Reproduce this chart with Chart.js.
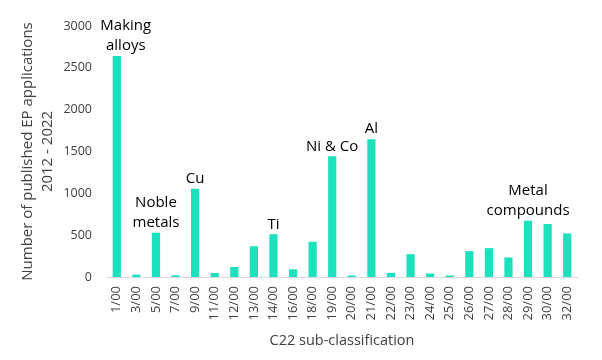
<!DOCTYPE html>
<html>
<head>
<meta charset="utf-8">
<script src="https://cdn.jsdelivr.net/npm/chart.js@4.4.1/dist/chart.umd.min.js"></script>
<style>
  html, body { margin: 0; padding: 0; background: #fff; }
  #wrap { width: 602px; height: 360px; }
</style>
</head>
<body>
<div id="wrap"><canvas id="chart" width="602" height="360"></canvas></div>
<script>
(function() {
    'use strict';

    // Categories (C22 sub-classes) and number of published applications
    var categories = ['1/00', '3/00', '5/00', '7/00', '9/00', '11/00', '12/00', '13/00',
                      '14/00', '16/00', '18/00', '19/00', '20/00', '21/00', '22/00', '23/00',
                      '24/00', '25/00', '26/00', '27/00', '28/00', '29/00', '30/00', '32/00'];
    var applications = [2640, 28, 530, 20, 1054, 48, 120, 367,
                        511, 92, 421, 1443, 18, 1647, 50, 273,
                        42, 18, 309, 345, 233, 673, 633, 521];

    // Text labels placed above some bars
    var labelCategories = ['1/00', '5/00', '9/00', '14/00', '19/00', '21/00', '29/00'];
    var labelTexts = [['Making', 'alloys'], ['Noble', 'metals'], ['Cu'], ['Ti'],
                      ['Ni & Co'], ['Al'], ['Metal', 'compounds']];

    var yTicks = [0, 500, 1000, 1500, 2000, 2500, 3000];

    var FONT = "'Open Sans', sans-serif";
    var TEXT = '#404040';

    // Draws the group labels above their bars
    var barLabels = {
        id: 'barLabels',
        afterDatasetsDraw: function(chart) {
            var ctx = chart.ctx;
            var x = chart.scales.x;
            var y = chart.scales.y;
            // first label sits a little right of its bar, clear of the 3000 tick
            var shift = { '1/00': 9 };
            ctx.save();
            ctx.font = '15px ' + FONT;
            ctx.fillStyle = '#000';
            ctx.textAlign = 'center';
            ctx.textBaseline = 'middle';
            labelCategories.forEach(function(cat, i) {
                var idx = categories.indexOf(cat);
                var px = x.getPixelForValue(idx) + (shift[cat] || 0);
                var top = y.getPixelForValue(applications[idx]);
                var lines = labelTexts[i];
                for (var k = 0; k < lines.length; k++) {
                    var py = top - 10 - (lines.length - 1 - k) * 20;
                    ctx.fillText(lines[k], px, py);
                }
            });
            ctx.restore();
        }
    };

    new Chart(document.getElementById('chart'), {
        type: 'bar',
        data: {
            labels: categories,
            datasets: [{
                data: applications,
                backgroundColor: '#1de0bd',
                barPercentage: 0.42,
                categoryPercentage: 1
            }]
        },
        options: {
            responsive: false,
            animation: false,
            events: [],
            layout: { padding: { top: 26, right: 25, bottom: 0, left: 0 } },
            plugins: {
                legend: { display: false },
                tooltip: { enabled: false }
            },
            scales: {
                x: {
                    grid: { display: false, drawTicks: false },
                    border: { display: true, color: '#d9d9d9', width: 1 },
                    ticks: {
                        color: TEXT,
                        font: { family: FONT, size: 13 },
                        minRotation: 90,
                        maxRotation: 90,
                        autoSkip: false,
                        padding: 9
                    },
                    title: {
                        display: true,
                        text: 'C22 sub-classification',
                        color: TEXT,
                        font: { family: FONT, size: 14.5 },
                        padding: { top: 0, bottom: 10 }
                    },
                    afterFit: function(scale) { scale.height = 83; }
                },
                y: {
                    min: 0,
                    max: 3000,
                    afterBuildTicks: function(scale) {
                        scale.ticks = yTicks.map(function(v) { return { value: v }; });
                    },
                    grid: { display: false, drawTicks: false },
                    border: { display: false },
                    ticks: {
                        color: TEXT,
                        font: { family: FONT, size: 12.5 },
                        padding: 15,
                        callback: function(v) { return String(v); }
                    },
                    title: {
                        display: true,
                        text: ['Number of published EP applications', '2012 - 2022'],
                        color: TEXT,
                        font: { family: FONT, size: 15, lineHeight: 1.3 },
                        padding: { top: 18, bottom: 0 }
                    },
                    afterFit: function(scale) { scale.width = 107; }
                }
            }
        },
        plugins: [barLabels]
    });
})();
</script>
</body>
</html>
